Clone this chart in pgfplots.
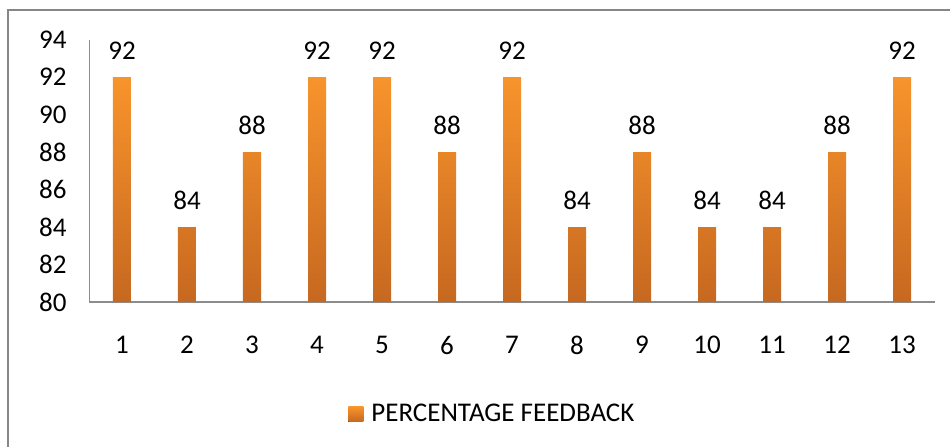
\documentclass[border=0pt]{standalone}
\usepackage{pgfplots}
\pgfplotsset{compat=1.18}
\usepackage{fontspec}
\setmainfont{Carlito}

\definecolor{bartop}{RGB}{248,148,44}
\definecolor{barbot}{RGB}{198,104,32}
\definecolor{framegray}{RGB}{134,134,134}
\definecolor{axgray}{RGB}{140,140,140}

\begin{document}
\begin{tikzpicture}
\useasboundingbox (0,0) rectangle (475pt,223pt);
% outer chart frame, cut off at right and bottom
\draw[framegray, line width=1.2pt] (4pt,-20pt) -- (4pt,218pt) -- (490pt,218pt);
\begin{axis}[
at={(44.75pt,72pt)}, anchor=south west,
scale only axis, width=422.5pt, height=131.25pt,
xmin=0.5, xmax=13.5, ymin=80, ymax=94,
axis x line=bottom, axis y line=left,
axis line style={axgray, line width=0.6pt, -},
xtick={1,...,13}, ytick={80,82,...,94},
major tick length=0pt,
tick label style={font=\fontsize{13.5}{16}\selectfont},
/pgf/number format/assume math mode=true,
xticklabel style={yshift=-13.5pt},
yticklabel style={xshift=-8pt},
ybar, bar width=9pt,
nodes near coords,
nodes near coords style={font=\fontsize{13.5}{16}\selectfont, yshift=5pt},
legend style={at={(0.478,-0.427)}, anchor=center, draw=none,
  font=\fontsize{13.5}{16}\selectfont},
legend image code/.code={%
  \fill[top color=bartop, bottom color=barbot] (0pt,-3.75pt) rectangle (7.5pt,3.75pt);
  \path (9.5pt,0pt);},
]
\addplot[draw=none, top color=bartop, bottom color=barbot] coordinates {
(1,92) (2,84) (3,88) (4,92) (5,92) (6,88) (7,92)
(8,84) (9,88) (10,84) (11,84) (12,88) (13,92)
};
\addlegendentry{PERCENTAGE FEEDBACK}
\end{axis}
\end{tikzpicture}
\end{document}
